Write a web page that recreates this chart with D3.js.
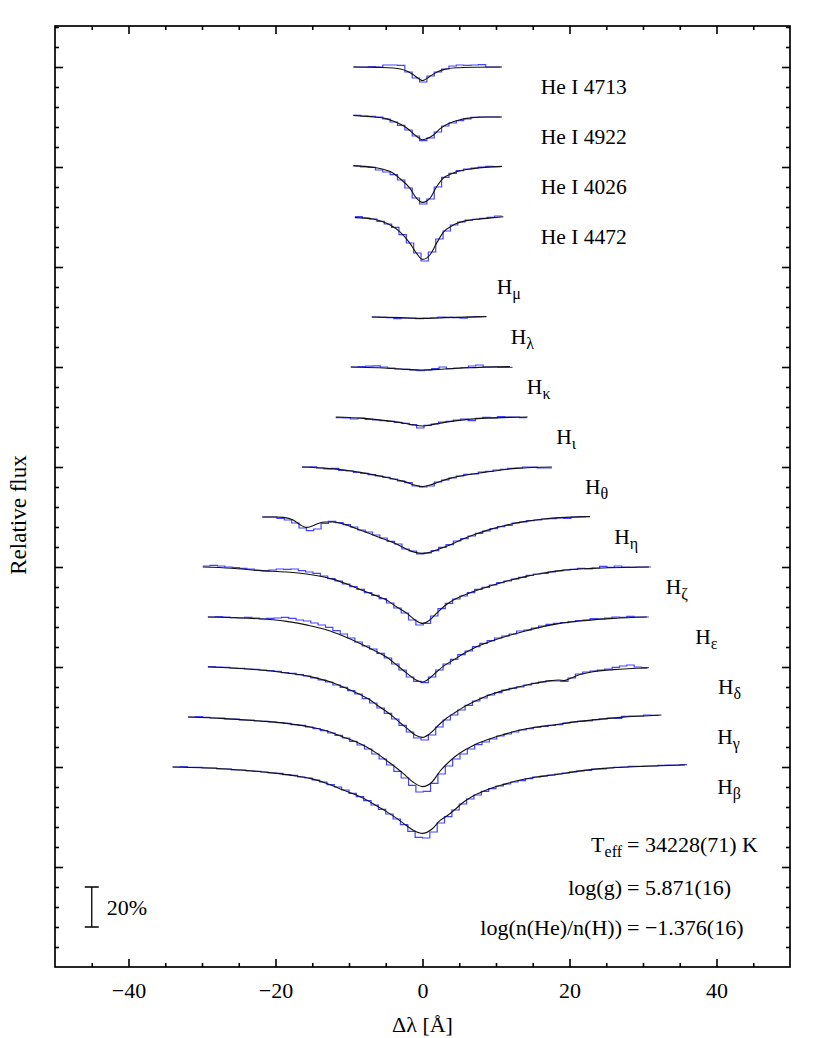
<!DOCTYPE html>
<html>
<head>
<meta charset="utf-8">
<script src="https://cdn.jsdelivr.net/npm/d3@7"></script>
<style>
  body { margin: 0; background: #fff; }
  svg text { font-family: "Liberation Serif", "DejaVu Serif", serif; fill: #000; }
</style>
</head>
<body>
<svg id="chart" width="830" height="1038"></svg>
<script>
// line identifications, top to bottom ("_" marks a subscript)
const lineLabels = ['He I 4713', 'He I 4922', 'He I 4026', 'He I 4472',
  'H_μ', 'H_λ', 'H_κ', 'H_ι', 'H_θ', 'H_η', 'H_ζ', 'H_ε', 'H_δ', 'H_γ', 'H_β'];

// vertical shift of each spectrum (continuum level in relative flux)
const offsets = [4.5, 4.25, 4.0, 3.75, 3.5, 3.25, 3.0, 2.75, 2.5, 2.25, 2.0, 1.75, 1.5, 1.25, 1.0];

// model fits: [delta lambda (A), normalized flux]
const modelProfiles = [
  [[-9.4,1.0],[-6,0.998],[-4,0.995],[-3,0.99],[-2,0.978],[-1.2,0.96],[-0.6,0.943],[0,0.932],[0.6,0.943],[1.2,0.958],[2,0.975],[3,0.988],[4.5,0.996],[7,0.999],[10.8,1.0]],
  [[-9.4,1.008],[-8,1.004],[-6.7,1.0],[-5,0.992],[-4,0.98],[-3,0.964],[-2.1,0.944],[-1.2,0.915],[-0.5,0.895],[0,0.886],[0.6,0.892],[1.5,0.91],[2.4,0.942],[3.7,0.97],[5,0.985],[6,0.993],[8.7,1.0],[10.8,1.0]],
  [[-9.4,1.007],[-6.7,0.998],[-5.5,0.99],[-4.4,0.977],[-3.1,0.943],[-1.7,0.893],[-0.8,0.843],[0,0.823],[1.0,0.843],[1.9,0.9],[2.8,0.943],[4.2,0.97],[6.9,0.992],[10.8,1.003]],
  [[-9.2,0.997],[-6.7,0.99],[-5.5,0.978],[-4.4,0.96],[-3.1,0.927],[-1.7,0.868],[-0.8,0.818],[0,0.788],[1.0,0.81],[1.9,0.868],[2.8,0.922],[4.2,0.96],[6.0,0.982],[8.7,0.993],[11,1.0015]],
  null,
  [[-6.9,1.0],[-3,0.997],[0,0.993],[3,0.997],[8.7,1.002]],
  [[-9.75,1.0],[-6,0.996],[-3,0.99],[0,0.985],[3,0.99],[6,0.996],[11.9,1.002]],
  [[-11.8,1.0],[-8,0.993],[-5,0.982],[-3,0.972],[-1.5,0.962],[0,0.955],[1.5,0.963],[3,0.973],[5,0.983],[8,0.993],[14.3,1.0]],
  [[-16.4,1.0],[-13,0.993],[-9.9,0.981],[-7.5,0.967],[-5.3,0.951],[-3.5,0.936],[-2.1,0.923],[-1,0.909],[0,0.902],[1,0.91],[2.2,0.925],[3.7,0.943],[6,0.96],[8.3,0.973],[10.5,0.984],[12.8,0.993],[17.6,1.0]],
  [[-21.8,1.0],[-20,1.0],[-18.9,0.998],[-17.6,0.985],[-16.6,0.96],[-15.8,0.948],[-15,0.955],[-14.2,0.968],[-13.2,0.975],[-12.2,0.975],[-10.5,0.962],[-8.5,0.935],[-6.7,0.91],[-4.9,0.885],[-3.4,0.862],[-2.1,0.838],[-1,0.823],[0,0.818],[1,0.823],[1.9,0.835],[3,0.85],[4.2,0.868],[5.5,0.89],[6.9,0.91],[9.2,0.938],[11.5,0.96],[14,0.978],[16.5,0.99],[18.7,0.997],[22.8,1.002]],
  [[-29.9,1.0],[-26,0.994],[-22,0.982],[-18.5,0.975],[-15.8,0.965],[-12.1,0.938],[-10.3,0.915],[-8.5,0.888],[-6.7,0.862],[-4.9,0.835],[-3.5,0.8],[-2.1,0.768],[-1,0.735],[0,0.718],[1,0.735],[1.9,0.768],[3,0.805],[4.2,0.835],[5.5,0.858],[6.9,0.877],[9.2,0.905],[11.5,0.93],[14,0.952],[16.5,0.97],[18.7,0.982],[23,0.993],[30.8,1.0]],
  [[-29.2,1.0],[-24.4,0.995],[-18.5,0.978],[-15.5,0.958],[-13,0.935],[-10.8,0.905],[-8.5,0.868],[-6.7,0.835],[-4.9,0.8],[-3.5,0.76],[-2.1,0.718],[-1,0.688],[0,0.675],[1,0.695],[1.9,0.725],[3,0.758],[4.2,0.785],[5.5,0.815],[6.9,0.843],[9.2,0.877],[11.5,0.905],[14,0.93],[16.5,0.953],[18.7,0.968],[22,0.982],[26,0.993],[30.5,1.0]],
  [[-29.2,1.0],[-26,0.995],[-22.1,0.985],[-18.5,0.97],[-15.3,0.952],[-12.5,0.925],[-10.3,0.893],[-8.5,0.862],[-7.1,0.835],[-6.2,0.81],[-5,0.78],[-4,0.752],[-3,0.72],[-2.1,0.693],[-1,0.66],[0,0.648],[1,0.667],[2.2,0.71],[3.3,0.745],[4.2,0.767],[5.3,0.793],[6.5,0.817],[8.7,0.855],[10.5,0.877],[13,0.9],[15.5,0.92],[17.5,0.932],[18.5,0.935],[19.3,0.932],[20.2,0.945],[21.4,0.962],[23,0.975],[26,0.987],[30.6,0.995]],
  [[-31.9,1.0],[-27,0.992],[-22.1,0.98],[-18.5,0.968],[-15.3,0.95],[-13,0.93],[-10.8,0.9],[-9,0.875],[-7.6,0.85],[-6.2,0.818],[-4.9,0.783],[-3.7,0.75],[-2.6,0.717],[-1.3,0.675],[0,0.652],[1.3,0.675],[2.4,0.73],[3.3,0.765],[4.2,0.795],[5.1,0.82],[6.9,0.858],[8.7,0.885],[11,0.912],[13.3,0.935],[15.5,0.95],[17.8,0.96],[20,0.972],[22.3,0.982],[26.9,0.998],[32.5,1.01]],
  [[-34,1.0],[-30,0.996],[-26.6,0.99],[-23,0.98],[-19.8,0.968],[-17.5,0.957],[-15.3,0.943],[-13,0.918],[-10.8,0.885],[-9,0.86],[-7.6,0.835],[-6.2,0.805],[-4.9,0.777],[-3.7,0.748],[-2.6,0.718],[-1.3,0.685],[0,0.668],[1.3,0.69],[2.4,0.733],[3.3,0.755],[4.5,0.79],[5.6,0.825],[7,0.858],[8.7,0.885],[11,0.912],[13.3,0.935],[15.5,0.95],[17.8,0.96],[21,0.978],[24.6,0.993],[28,1.0],[31.4,1.005],[35.7,1.01]]
];

// observed spectra: first bin edge (A) and binned normalized flux, 1 A bins
const obsBin = 1.0;
const obsStart = [-9.4, -9.4, -9.4, -9.2, null, -6.9, -9.75, -11.8, -16.4, -21.8, -29.9, -29.2, -29.2, -31.9, -34.0];
const obsFlux = [
  [1.0,1.0,1.002,1.0,1.01,1.01,1.008,0.975,0.945,0.925,0.955,0.975,0.99,1.005,1.01,1.008,1.01,1.012,1.0,1.0],
  [1.008,1.005,1.003,1.0,0.99,0.975,0.958,0.935,0.905,0.882,0.895,0.925,0.955,0.97,0.982,0.99,0.998,1.0,1.0,1.0],
  [1.005,1.0,0.998,0.985,0.975,0.962,0.935,0.895,0.845,0.815,0.84,0.9,0.948,0.968,0.982,0.99,0.995,1.0,1.003,1.002],
  [1.0015,0.995,0.99,0.978,0.965,0.948,0.912,0.87,0.82,0.78,0.825,0.89,0.93,0.96,0.975,0.984,0.988,0.993,0.998,1.005],
  null,
  [1.0,0.998,0.997,0.992,0.995,0.994,0.992,0.993,0.996,1.0,0.998,0.997,0.994,1.0,1.002],
  [1.0,1.002,1.004,1.006,1.0,0.995,0.99,0.988,0.985,0.982,0.985,0.992,1.0,0.992,0.995,0.997,1.005,1.01,1.0,1.0,0.998,0.998],
  [0.997,0.995,0.99,0.995,0.988,0.985,0.982,0.978,0.973,0.968,0.962,0.945,0.958,0.965,0.975,0.978,0.985,0.99,0.982,0.993,0.998,0.995,1.002,1.0,1.0,0.997],
  [1.0,1.001,0.995,0.99,0.993,0.983,0.98,0.973,0.968,0.962,0.955,0.948,0.94,0.93,0.922,0.905,0.9,0.905,0.925,0.935,0.945,0.955,0.963,0.965,0.975,0.978,0.985,0.988,0.993,0.995,1.0,1.0,0.995,0.995],
  [1.0,1.0,0.993,0.985,0.97,0.945,0.932,0.94,0.968,0.978,0.972,0.962,0.95,0.935,0.925,0.91,0.895,0.878,0.865,0.84,0.83,0.815,0.82,0.832,0.848,0.862,0.88,0.892,0.905,0.918,0.93,0.942,0.952,0.958,0.97,0.975,0.982,0.985,0.99,0.992,0.995,0.993,1.0,1.002],
  [1.005,1.008,1.005,1.0,0.997,0.993,0.99,0.983,0.982,0.985,0.99,0.988,0.99,0.982,0.975,0.968,0.955,0.942,0.93,0.915,0.902,0.888,0.872,0.858,0.842,0.82,0.795,0.77,0.735,0.71,0.718,0.755,0.792,0.818,0.84,0.855,0.872,0.888,0.898,0.91,0.922,0.93,0.94,0.948,0.958,0.965,0.968,0.975,0.98,0.985,0.988,0.993,0.99,0.995,1.003,0.998,1.005,1.0,0.998,1.0,1.0],
  [1.0,1.002,1.0,0.997,0.995,0.998,0.995,0.99,0.993,0.995,0.998,0.993,0.985,0.98,0.97,0.96,0.948,0.932,0.915,0.895,0.875,0.855,0.84,0.818,0.795,0.765,0.735,0.7,0.678,0.672,0.7,0.735,0.765,0.788,0.812,0.83,0.852,0.868,0.882,0.895,0.905,0.915,0.93,0.935,0.945,0.955,0.963,0.968,0.972,0.977,0.982,0.985,0.992,0.99,0.995,1.0,0.998,1.003,1.0,1.0],
  [1.002,1.0,0.998,0.995,0.993,0.99,0.988,0.985,0.982,0.978,0.972,0.968,0.962,0.955,0.945,0.935,0.925,0.91,0.898,0.882,0.865,0.842,0.82,0.795,0.768,0.74,0.708,0.675,0.645,0.635,0.66,0.7,0.735,0.76,0.785,0.808,0.83,0.845,0.86,0.872,0.885,0.893,0.9,0.91,0.918,0.925,0.93,0.93,0.928,0.945,0.965,0.975,0.98,0.985,0.99,0.998,1.005,1.01,1.0,0.997],
  [1.0,1.002,0.998,0.995,0.995,0.99,0.99,0.985,0.985,0.98,0.978,0.975,0.972,0.968,0.962,0.958,0.95,0.942,0.932,0.92,0.908,0.895,0.878,0.86,0.84,0.815,0.79,0.76,0.728,0.695,0.658,0.625,0.628,0.668,0.715,0.755,0.79,0.815,0.84,0.862,0.875,0.89,0.905,0.915,0.925,0.935,0.942,0.948,0.953,0.958,0.962,0.97,0.975,0.978,0.98,0.987,0.99,0.995,0.993,1.003,1.005,1.005,1.01,1.008],
  [1.0,1.002,0.998,0.998,0.995,0.995,0.99,0.99,0.985,0.985,0.98,0.978,0.975,0.97,0.968,0.962,0.958,0.95,0.945,0.935,0.925,0.912,0.9,0.885,0.868,0.852,0.832,0.81,0.788,0.765,0.74,0.712,0.678,0.648,0.645,0.675,0.72,0.752,0.785,0.815,0.84,0.86,0.878,0.892,0.905,0.915,0.925,0.932,0.942,0.95,0.955,0.96,0.965,0.97,0.975,0.98,0.983,0.99,0.99,0.995,0.998,1.0,1.003,1.003,1.005,1.005,1.008,1.01,1.01,1.012]
];

// where each identification sits along the wavelength axis (A)
const labelAt = [16.1, 16.1, 16.1, 16.1, 10.1, 12.0, 14.2, 18.2, 22.1, 26.1, 33.1, 37.1, 40.2, 40.1, 40.1];

// fit results
const fitNames = ['T_eff', 'log(g)', 'log(n(He)/n(H))'];
const fitValues = ['34228(71) K', '5.871(16)', '\u22121.376(16)'];

const xTicks = [-40, -20, 0, 20, 40];
const xMinor = d3.range(-45, 50, 5).filter(v => v % 20 !== 0);
const yTicks = d3.range(0.5, 4.6, 0.5);
const yMinor = d3.range(0.1, 4.71, 0.1).filter(v => Math.abs(v * 2 - Math.round(v * 2)) > 1e-6);

const plotL = 55, plotR = 790, plotT = 26, plotB = 967;

const svg = d3.select('#chart');

const x = d3.scaleLinear().domain([-50, 50]).range([plotL, plotR]);
const y = d3.scaleLinear().domain([0, 4.705]).range([plotB, plotT]);

// axes: ticks point inwards on all four sides
function axis(gen, tf) {
  const g = svg.append('g')
    .attr('transform', tf)
    .call(gen)
    .attr('font-family', '"Liberation Serif", serif')
    .attr('font-size', 22);
  g.select('.domain').remove();
  g.selectAll('.tick line').attr('stroke', '#000').attr('stroke-width', 1.6);
  return g;
}

axis(d3.axisBottom(x).tickValues(xTicks).tickSizeInner(-8).tickSizeOuter(0).tickPadding(15), `translate(0,${plotB})`);
axis(d3.axisBottom(x).tickValues(xMinor).tickSizeInner(-4).tickSizeOuter(0).tickFormat(''), `translate(0,${plotB})`);
axis(d3.axisTop(x).tickValues(xTicks).tickSizeInner(-8).tickSizeOuter(0).tickFormat(''), `translate(0,${plotT})`);
axis(d3.axisTop(x).tickValues(xMinor).tickSizeInner(-4).tickSizeOuter(0).tickFormat(''), `translate(0,${plotT})`);
axis(d3.axisLeft(y).tickValues(yTicks).tickSizeInner(-8).tickSizeOuter(0).tickFormat(''), `translate(${plotL},0)`);
axis(d3.axisLeft(y).tickValues(yMinor).tickSizeInner(-4).tickSizeOuter(0).tickFormat(''), `translate(${plotL},0)`);
axis(d3.axisRight(y).tickValues(yTicks).tickSizeInner(-8).tickSizeOuter(0).tickFormat(''), `translate(${plotR},0)`);
axis(d3.axisRight(y).tickValues(yMinor).tickSizeInner(-4).tickSizeOuter(0).tickFormat(''), `translate(${plotR},0)`);

svg.append('rect')
  .attr('x', plotL).attr('y', plotT)
  .attr('width', plotR - plotL).attr('height', plotB - plotT)
  .attr('fill', 'none').attr('stroke', '#000').attr('stroke-width', 1.7);

// spectra
const stepLine = d3.line().curve(d3.curveStepAfter).x(d => x(d[0])).y(d => y(d[1]));
const modelLine = d3.line().curve(d3.curveMonotoneX).x(d => x(d[0])).y(d => y(d[1]));

lineLabels.forEach((name, i) => {
  const off = offsets[i] - 1;
  if (obsFlux[i]) {
    const pts = obsFlux[i].map((f, k) => [obsStart[i] + k * obsBin, f + off]);
    pts.push([obsStart[i] + obsFlux[i].length * obsBin, obsFlux[i][obsFlux[i].length - 1] + off]);
    svg.append('path')
      .attr('d', stepLine(pts))
      .attr('fill', 'none')
      .attr('stroke', '#3030ff')
      .attr('stroke-width', 1.2)
      .attr('stroke-opacity', 0.9);
  }
  if (modelProfiles[i]) {
    svg.append('path')
      .attr('d', modelLine(modelProfiles[i].map(d => [d[0], d[1] + off])))
      .attr('fill', 'none')
      .attr('stroke', '#111')
      .attr('stroke-width', 1.1);
  }

  // identification label
  const parts = name.split('_');
  const t = svg.append('text')
    .attr('x', x(labelAt[i]))
    .attr('y', y(offsets[i]) + 26.5)
    .attr('font-size', 21.5)
    .text(parts[0]);
  if (parts[1]) {
    t.append('tspan').attr('font-size', 16).attr('dy', 5).text(parts[1]);
  }
});

// fit parameters, aligned on the "=" sign
const fitBase = [852, 895, 935];
fitNames.forEach((name, i) => {
  const parts = name.split('_');
  const t = svg.append('text')
    .attr('x', 622).attr('y', fitBase[i])
    .attr('text-anchor', 'end')
    .attr('font-size', 22)
    .text(parts[0]);
  if (parts[1]) {
    t.append('tspan').attr('font-size', 16).attr('dy', 5).text(parts[1]);
  }
  svg.append('text')
    .attr('x', 627).attr('y', fitBase[i])
    .attr('font-size', 22)
    .text('= ' + fitValues[i]);
});

// 20% scale bar
const barX = x(-45);
svg.append('path')
  .attr('d', `M${barX},${y(0.4)}V${y(0.2)}M${barX - 7},${y(0.4)}H${barX + 7}M${barX - 7},${y(0.2)}H${barX + 7}`)
  .attr('stroke', '#000').attr('stroke-width', 1.3).attr('fill', 'none');
svg.append('text')
  .attr('x', barX + 15).attr('y', (y(0.4) + y(0.2)) / 2 + 8)
  .attr('font-size', 22)
  .text('20%');

// axis titles
svg.append('text')
  .attr('x', x(0)).attr('y', 1032)
  .attr('text-anchor', 'middle')
  .attr('font-size', 22)
  .text('\u0394\u03bb [\u00c5]');

svg.append('text')
  .attr('transform', 'translate(26,515) rotate(-90)')
  .attr('text-anchor', 'middle')
  .attr('font-size', 23)
  .text('Relative flux');
</script>
</body>
</html>
